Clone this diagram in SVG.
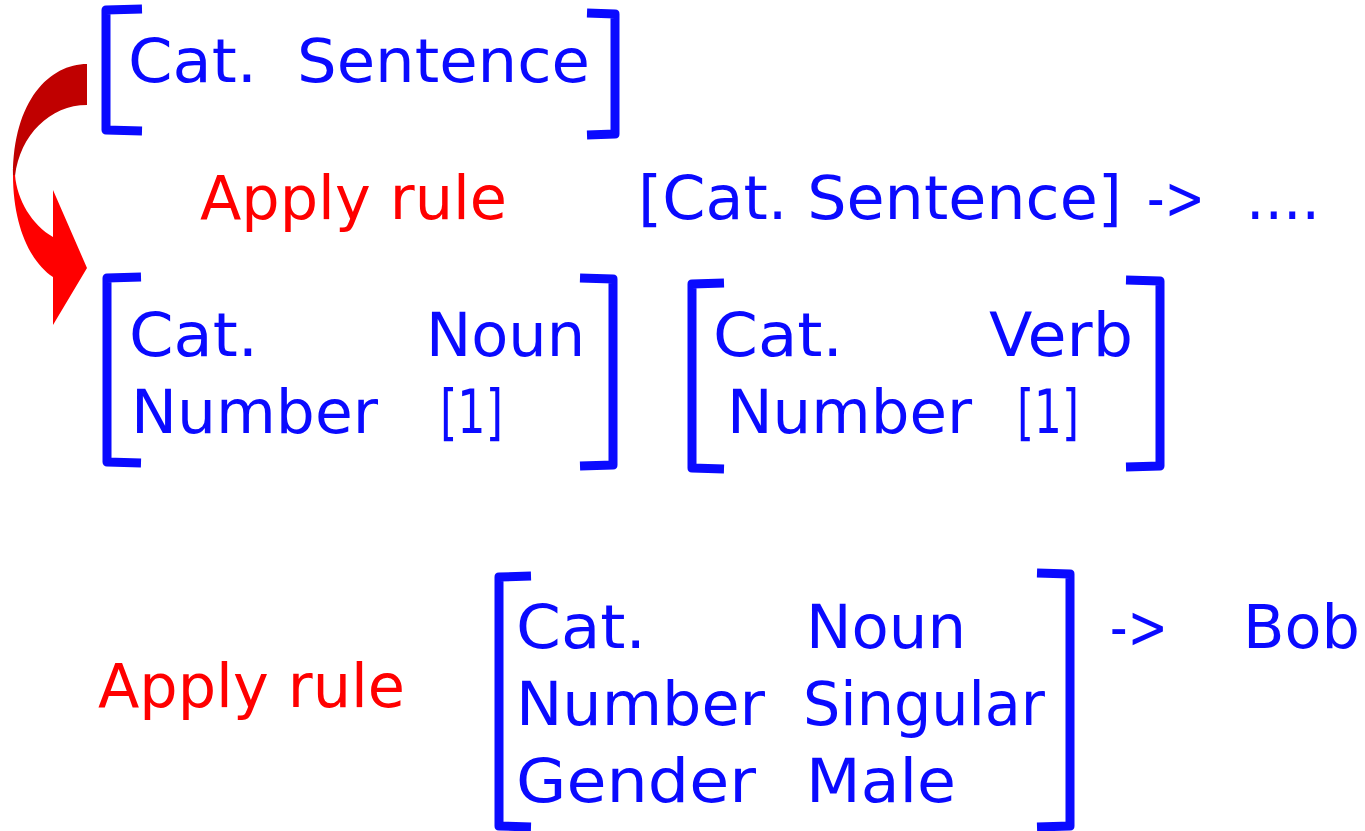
<svg xmlns="http://www.w3.org/2000/svg" width="1365" height="831" viewBox="0 0 1365 831">
<style>
.t{font-family:"DejaVu Sans","Liberation Sans",sans-serif;font-size:61px;fill:#0a0aff}
.r{fill:#ff0000}
.b{fill:none;stroke:#0a0aff;stroke-width:9;stroke-linejoin:round;stroke-linecap:butt}
</style>
<rect width="1365" height="831" fill="#ffffff"/>
<g id="connectors">
<path d="M87,64 C50,64 13,100 13,176 L15,176 C20,135 50,105 87,105 Z" fill="#c00000"/>
<path d="M13,175 C13,225 30,262 53,277 L53,325 L87,268 L53,190 L53,237 C32,225 17,200 15,175 Z" fill="#ff0000"/>
</g>
<g id="node-sentence">
<path class="b" d="M142,9 L106,10 L106,130 L142,131"/>
<path class="b" d="M587,13 L615,14 L615,134 L587,135"/>
<text class="t" x="128" y="82" textLength="129" lengthAdjust="spacingAndGlyphs">Cat.</text>
<text class="t" x="297" y="82" textLength="293" lengthAdjust="spacingAndGlyphs">Sentence</text>
</g>
<g id="rule1">
<text class="t r" x="200" y="219" textLength="307" lengthAdjust="spacingAndGlyphs">Apply rule</text>
<text class="t" x="638" y="219" textLength="484" lengthAdjust="spacingAndGlyphs">[Cat. Sentence]</text>
<text class="t" x="1147" y="219" textLength="58" lengthAdjust="spacingAndGlyphs">-&gt;</text>
<text class="t" x="1246" y="219" textLength="74" lengthAdjust="spacingAndGlyphs">....</text>
</g>
<g id="node-noun">
<path class="b" d="M141,277 L107,278 L107,462 L141,463"/>
<path class="b" d="M580,278 L613,279 L613,465 L580,466"/>
<text class="t" x="129" y="356" textLength="129" lengthAdjust="spacingAndGlyphs">Cat.</text>
<text class="t" x="426" y="356" textLength="159" lengthAdjust="spacingAndGlyphs">Noun</text>
<text class="t" x="131" y="433" textLength="247" lengthAdjust="spacingAndGlyphs">Number</text>
<text class="t" x="440" y="433" textLength="63" lengthAdjust="spacingAndGlyphs">[1]</text>
</g>
<g id="node-verb">
<path class="b" d="M724,283 L692,284 L692,468 L724,469"/>
<path class="b" d="M1126,280 L1160,281 L1160,466 L1126,467"/>
<text class="t" x="713" y="356" textLength="130" lengthAdjust="spacingAndGlyphs">Cat.</text>
<text class="t" x="989" y="356" textLength="144" lengthAdjust="spacingAndGlyphs">Verb</text>
<text class="t" x="727" y="433" textLength="245" lengthAdjust="spacingAndGlyphs">Number</text>
<text class="t" x="1017" y="433" textLength="62" lengthAdjust="spacingAndGlyphs">[1]</text>
</g>
<g id="rule2">
<text class="t r" x="98" y="707" textLength="307" lengthAdjust="spacingAndGlyphs">Apply rule</text>
</g>
<g id="node-bob">
<path class="b" d="M531,576 L499,577 L499,826 L531,827"/>
<path class="b" d="M1037,573 L1070,574 L1070,826 L1037,827"/>
<text class="t" x="516" y="648" textLength="130" lengthAdjust="spacingAndGlyphs">Cat.</text>
<text class="t" x="806" y="648" textLength="160" lengthAdjust="spacingAndGlyphs">Noun</text>
<text class="t" x="516" y="725" textLength="249" lengthAdjust="spacingAndGlyphs">Number</text>
<text class="t" x="803" y="725" textLength="242" lengthAdjust="spacingAndGlyphs">Singular</text>
<text class="t" x="516" y="802" textLength="240" lengthAdjust="spacingAndGlyphs">Gender</text>
<text class="t" x="806" y="802" textLength="150" lengthAdjust="spacingAndGlyphs">Male</text>
<text class="t" x="1110" y="648" textLength="58" lengthAdjust="spacingAndGlyphs">-&gt;</text>
<text class="t" x="1243" y="648" textLength="117" lengthAdjust="spacingAndGlyphs">Bob</text>
</g>
</svg>
